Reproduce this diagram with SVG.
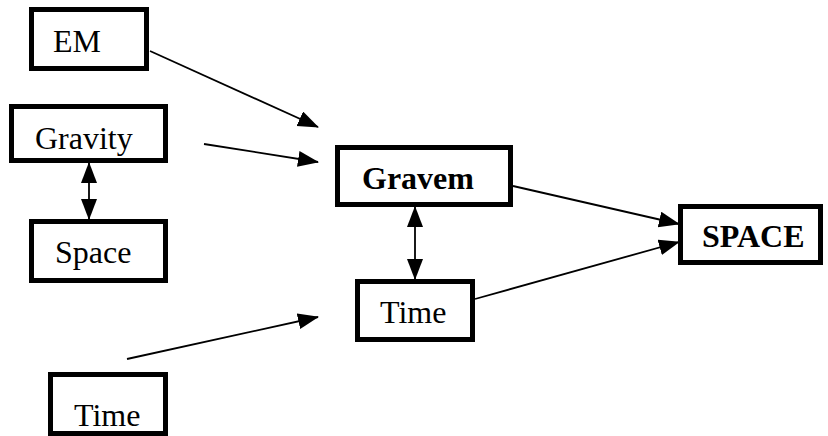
<svg xmlns="http://www.w3.org/2000/svg" width="828" height="436" viewBox="0 0 828 436">
<style>
.box{fill:#fff;stroke:#000;stroke-width:5}
.t{font-family:"Liberation Serif","Times New Roman",serif;font-size:32px;fill:#000}
.b{font-weight:bold}
.c{stroke:#000;stroke-width:1.8;fill:none}
</style>
<defs>
<marker id="ah" markerUnits="userSpaceOnUse" markerWidth="22" markerHeight="18" refX="20" refY="8" orient="auto-start-reverse" viewBox="0 0 22 18">
<path d="M0,0 L21,8 L0,16 z" fill="#000"/>
</marker>
</defs>
<rect width="828" height="436" fill="#fff"/>
<g id="connectors">
<line class="c" x1="150" y1="51" x2="318" y2="127" marker-end="url(#ah)"/>
<line class="c" x1="204" y1="144" x2="318" y2="162" marker-end="url(#ah)"/>
<line class="c" x1="89" y1="163" x2="89" y2="219" marker-start="url(#ah)" marker-end="url(#ah)"/>
<line class="c" x1="415" y1="207" x2="415" y2="279" marker-start="url(#ah)" marker-end="url(#ah)"/>
<line class="c" x1="513" y1="186" x2="679" y2="224" marker-end="url(#ah)"/>
<line class="c" x1="475" y1="299" x2="679" y2="242" marker-end="url(#ah)"/>
<line class="c" x1="127" y1="359" x2="318" y2="317" marker-end="url(#ah)"/>
</g>
<g id="em"><rect class="box" x="31.5" y="9.5" width="115" height="59"/><text class="t" x="53" y="52">EM</text></g>
<g id="gravity"><rect class="box" x="11.5" y="106.5" width="154" height="54"/><text class="t" x="35" y="149">Gravity</text></g>
<g id="space"><rect class="box" x="31.5" y="221.5" width="134" height="59"/><text class="t" x="55" y="263">Space</text></g>
<g id="gravem"><rect class="box" x="337.5" y="147.5" width="173" height="57"/><text class="t b" x="362" y="189">Gravem</text></g>
<g id="time-mid"><rect class="box" x="357.5" y="281.5" width="115" height="58"/><text class="t" x="380" y="323">Time</text></g>
<g id="space-big"><rect class="box" x="680.5" y="206.5" width="140" height="56"/><text class="t b" x="702" y="247">SPACE</text></g>
<g id="time-bottom"><rect class="box" x="50.5" y="374.5" width="115" height="59"/><text class="t" x="74" y="426">Time</text></g>
</svg>
